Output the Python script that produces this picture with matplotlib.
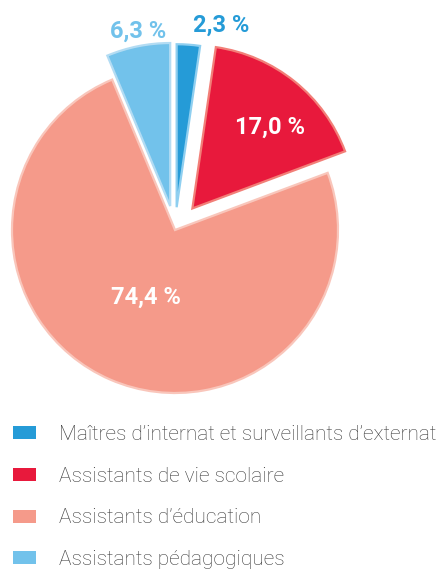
import numpy as np
import matplotlib
matplotlib.use("Agg")
import matplotlib.pyplot as plt

plt.rcParams['font.family'] = ['Roboto', 'DejaVu Sans']

categories = ["Maîtres d’internat et surveillants d’externat",
              "Assistants de vie scolaire",
              "Assistants d’éducation",
              "Assistants pédagogiques"]
values = [2.3, 17.0, 74.4, 6.3]

colors = ['#259bd7', '#e8193c', '#f59a8a', '#72c2eb']
edge_colors = ['#8fcff0', '#f27f78', '#f9c6bb', '#b3dcf3']
label_colors = ['#259bd7', 'white', 'white', '#72c2eb']
explode = [0.14, 0.17, 0.0, 0.15]
label_dist = [1.15, 0.69, 0.45, 1.09]
label_turn = [-9.6, -5.0, 0.0, -0.8]

W, H = 438, 572
fig = plt.figure(figsize=(W / 100, H / 100), dpi=100)
ax = fig.add_axes([0, 0, 1, 1])

radius = 163
wedges, _ = ax.pie(values, colors=colors, explode=[e * radius for e in explode],
                   startangle=90, counterclock=False, radius=radius,
                   center=(175, 342), wedgeprops=dict(linewidth=1.6), frame=True)
ax.axis('off')
ax.set_xlim(0, W)
ax.set_ylim(0, H)
ax.set_aspect('equal')

for w, ec, lc, d, t, v in zip(wedges, edge_colors, label_colors, label_dist,
                              label_turn, values):
    w.set_edgecolor(ec)
    mid = np.deg2rad((w.theta1 + w.theta2) / 2 + t)
    cx, cy = w.center
    x = cx + d * radius * np.cos(mid)
    y = cy + d * radius * np.sin(mid)
    ax.text(x, y, f"{v:.1f} %".replace('.', ','), color=lc, fontsize=17,
            fontweight='bold', ha='center', va='center')

handles = [plt.Rectangle((0, 0), 1, 1, facecolor=c, edgecolor='none') for c in colors]
fig.legend(handles, categories, loc='upper left',
           bbox_to_anchor=(13 / W, 1 - 425 / H), frameon=False,
           prop=dict(family=['Roboto', 'DejaVu Sans'], weight='light', size=15),
           handlelength=1.1, handleheight=0.58,
           handletextpad=1.1, labelspacing=1.09, borderpad=0,
           borderaxespad=0, labelcolor='#3a3a3a')

fig.savefig('out.png', dpi=100)
